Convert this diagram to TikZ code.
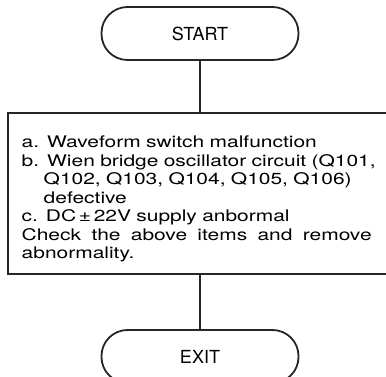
\documentclass[tikz,border=0pt]{standalone}
\usepackage{fontspec}
\setmainfont{TeX Gyre Heros}
\newfontfamily\widefont[FakeStretch=1.31]{TeX Gyre Heros}
\usetikzlibrary{positioning}

\begin{document}
\begin{tikzpicture}[x=1pt,y=1pt,
  terminal/.style={draw=black!85,line width=1.8pt,rectangle,rounded corners=26pt,
    minimum width=197pt,minimum height=53pt,font=\fontsize{18}{20}\selectfont},
  checkbox/.style={draw=black!85,line width=1.8pt,rectangle,inner xsep=13.7pt,
    text width=360pt,minimum height=161pt,align=left,
    font=\widefont\fontsize{16}{18.5}\selectfont},
  link/.style={draw=black!85,line width=1.1pt}]
  \useasboundingbox (0,0) rectangle (386,377);

  % Terminals and the check box.
  \node[terminal] (start) at (200,343.5) {START};
  \node[checkbox] (check) at (201.7,183.5) {\rule{0pt}{23pt}%
    a. Waveform switch malfunction\\
    b. Wien bridge oscillator circuit (Q101,\\
    \hspace*{22pt}Q102, Q103, Q104, Q105, Q106)\\
    \hspace*{22pt}defective\\
    c. DC\,±\,22V supply anbormal\\
    \makebox[350pt][l]{Check\hfill the\hfill above\hfill items\hfill and\hfill remove}\\
    abnormality.};
  \node[terminal] (exit) at (200,20.5) {EXIT};

  % Connectors.
  \draw[link] (start) -- (start |- check.north);
  \draw[link] (start |- check.south) -- (exit);
\end{tikzpicture}
\end{document}
